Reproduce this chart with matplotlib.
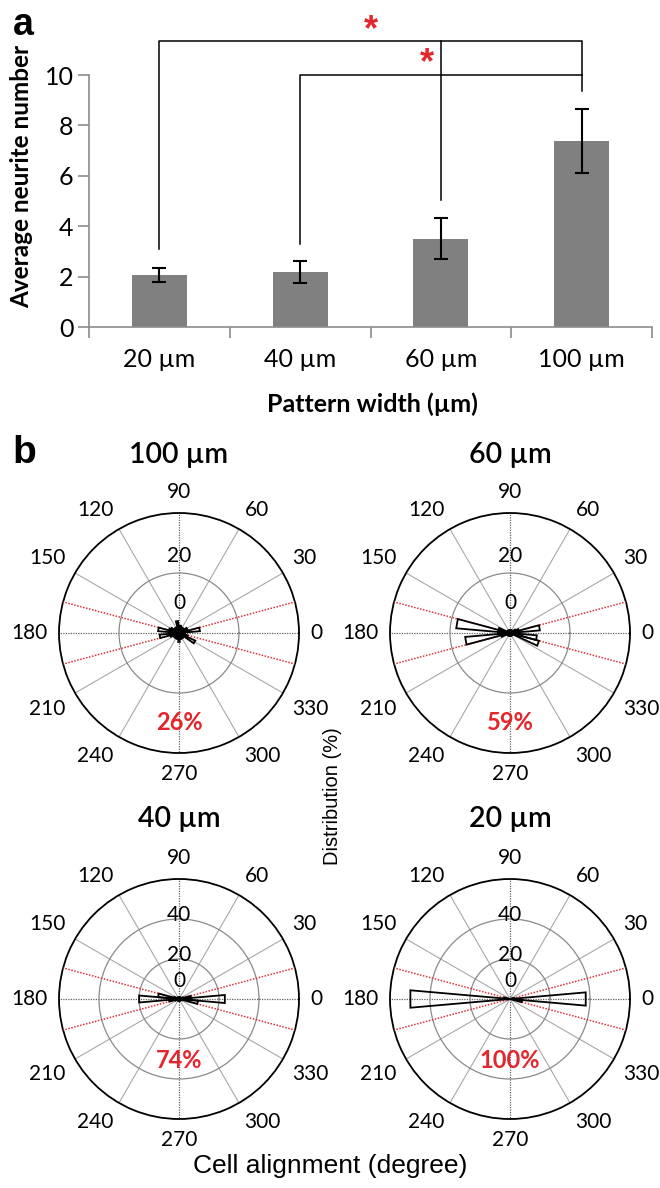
import numpy as np
import matplotlib
matplotlib.use('Agg')
import matplotlib.pyplot as plt

# ---------------- data ----------------
categories = ['20 µm', '40 µm', '60 µm', '100 µm']
neurite_mean = [2.07, 2.18, 3.51, 7.40]
neurite_err = [0.28, 0.43, 0.82, 1.27]

# significance brackets (panel a)
bracket_top = 11.35
bracket_mid = 10.0
leg_low = [3.1, 3.3, 5.05, 9.35]

bin_centers_deg = list(range(0, 360, 10))
dist_100 = [2, 7, 3, 3, 2, 2, 2, 2, 2.5, 2, 4, 2, 2, 2, 2, 3, 3.5, 7,
            2, 6.5, 3, 2, 2, 2, 2, 2, 2, 3, 2, 2, 2, 2, 2, 6, 3, 1.5]
dist_60 = [3, 10, 3, 2, 1, 0.5, 1, 0.5, 1, 0.5, 1, 0.5, 1, 0.5, 1, 1, 4, 18,
           4, 15, 3, 1, 0.5, 1, 0.5, 1, 0.5, 1, 0.5, 1, 0.5, 1, 0.5, 1, 10, 9]
dist_40 = [23, 6, 2, 1, 0.5, 0.5, 1, 0.5, 0.5, 1, 0.5, 0.5, 1, 0.5, 0.5, 1, 2.5, 10.5,
           20, 5, 2, 1, 0.5, 0.5, 1, 0.5, 0.5, 1, 0.5, 0.5, 1, 0.5, 0.5, 1, 1.5, 9.5]
dist_20 = [38, 2, 0, 0, 0, 0, 0, 0, 0, 0, 0, 0, 0, 0, 0, 0, 0, 3,
           50, 1, 0, 0, 0, 0, 0, 0, 0, 0, 0, 0, 0, 0, 0, 0, 0, 6]
panel_titles = ['100 µm', '60 µm', '40 µm', '20 µm']
panel_dists = [dist_100, dist_60, dist_40, dist_20]
panel_rmax = [40, 40, 60, 60]
aligned_pct = ['26%', '59%', '74%', '100%']
angle_ticks = list(range(0, 360, 30))
window_deg = [15, 165, 195, 345]

# ---------------- layout ----------------
W, H = 660, 1188
fig = plt.figure(figsize=(W / 100, H / 100), dpi=100)
CAL = ['Lato', 'DejaVu Sans']
ARI = ['Liberation Sans', 'DejaVu Sans']

def fx(px):
    return px / W

def fy(py):
    return 1 - py / H

# ---------------- panel a ----------------
y0_px, unit_px = 327, 25.2
ymax = 12
ax = fig.add_axes([fx(89), fy(y0_px), 563 / W, ymax * unit_px / H])
x = np.arange(len(categories))
ax.bar(x, neurite_mean, width=0.39, color='#808080', zorder=2)
ax.errorbar(x, neurite_mean, yerr=neurite_err, fmt='none', ecolor='black',
            elinewidth=1.5, capsize=5, capthick=1.5, zorder=3)
ax.set_xlim(-0.5, 3.5)
ax.set_ylim(0, ymax)
for s in ['top', 'right']:
    ax.spines[s].set_visible(False)
for s in ['left', 'bottom']:
    ax.spines[s].set_color('#8c8c8c')
    ax.spines[s].set_linewidth(1.2)
ax.spines['left'].set_bounds(0, 10)
ax.set_yticks(range(0, 11, 2))
ax.set_yticklabels([str(v) for v in range(0, 11, 2)], fontfamily=CAL, fontsize=18)
ax.tick_params(axis='y', length=8, width=1.2, color='#8c8c8c', pad=3)
ax.set_xticks(x)
ax.set_xticklabels(categories, fontfamily=CAL, fontsize=18)
ax.tick_params(axis='x', which='major', length=0, pad=15)
ax.set_xticks(np.arange(-0.5, 4, 1), minor=True)
ax.tick_params(axis='x', which='minor', length=8, width=1.2, color='#8c8c8c')
ax.patch.set_alpha(0)

bk = dict(color='black', lw=1.1, clip_on=False, zorder=1)
ax.plot([x[0], x[0], x[3], x[3]], [leg_low[0], bracket_top, bracket_top, bracket_mid], **bk)
ax.plot([x[1], x[1], x[3], x[3]], [leg_low[1], bracket_mid, bracket_mid, leg_low[3]], **bk)
ax.plot([x[2], x[2]], [leg_low[2], bracket_top], **bk)
ax.text(1.5, 11.75, '*', color='#e3262b', fontsize=26, fontweight='bold',
        ha='center', va='center', fontfamily=ARI, clip_on=False)
ax.text(1.9, 10.45, '*', color='#e3262b', fontsize=26, fontweight='bold',
        ha='center', va='center', fontfamily=ARI, clip_on=False)

fig.text(fx(22), fy(176), 'Average neurite number', rotation=90, ha='center',
         va='center', fontsize=17.5, fontweight='bold', fontfamily=CAL)
fig.text(fx(372), fy(404), 'Pattern width (µm)', ha='center', va='center',
         fontsize=18, fontweight='bold', fontfamily=CAL)
fig.text(fx(13), fy(35), 'a', fontsize=27, fontweight='bold', fontfamily=ARI,
         ha='left', va='baseline')

# ---------------- panel b ----------------
fig.text(fx(12), fy(463), 'b', fontsize=28, fontweight='bold', fontfamily=ARI,
         ha='left', va='baseline')
centers = [(179, 633), (510, 633), (179, 999), (510, 999)]
title_y = [455, 455, 819, 819]
pct_dy = [89, 89, 62, 62]
R = 120
GAP = 11
for i in range(4):
    cx, cy = centers[i]
    rmax = panel_rmax[i]
    pax = fig.add_axes([fx(cx - R), fy(cy + R), 2 * R / W, 2 * R / H], projection='polar')
    pax.set_ylim(0, rmax)
    rings = list(range(20, rmax, 20))
    pax.set_yticks(rings)
    pax.set_yticklabels([])
    pax.set_thetagrids(angle_ticks, [''] * len(angle_ticks))
    pax.yaxis.grid(True, color='#8a8a8a', lw=0.9, ls='-')
    for a, gl in zip(angle_ticks, pax.xaxis.get_gridlines()):
        if a % 90 == 0:
            gl.set_linestyle((0, (1, 1)))
            gl.set_color('#606060')
            gl.set_linewidth(0.9)
        else:
            gl.set_linestyle('-')
            gl.set_color('#a8a8a8')
            gl.set_linewidth(0.8)
    pax.spines['polar'].set_color('black')
    pax.spines['polar'].set_linewidth(1.3)
    # angle labels anchored by their inner edge
    for a in angle_ticks:
        c, s = np.cos(np.deg2rad(a)), np.sin(np.deg2rad(a))
        ha = 'left' if c > 0.1 else ('right' if c < -0.1 else 'center')
        va = 'bottom' if s > 0.1 else ('top' if s < -0.1 else 'center')
        pax.annotate(str(a), xy=(np.deg2rad(a), rmax), xytext=(GAP * c, GAP * s),
                     textcoords='offset pixels', ha=ha, va=va, fontsize=15,
                     fontfamily=CAL, annotation_clip=False)
    for a in window_deg:
        pax.plot([np.deg2rad(a)] * 2, [0, rmax], color='#d9343a', ls=(0, (1, 1)),
                 lw=1.1, zorder=3)
    for c, r in zip(bin_centers_deg, panel_dists[i]):
        if r > 0:
            th = np.deg2rad([c, c - 5, c + 5])
            pax.fill(th, [0, r, r], fill=False, edgecolor='black', lw=1.3, zorder=4)
    # radial labels
    off0 = 30 if rmax == 40 else 18
    offr = 17 if rmax == 40 else 4
    pax.annotate('0', xy=(np.pi / 2, 0), xytext=(0, off0), textcoords='offset pixels',
                 ha='center', va='center', fontsize=15, fontfamily=CAL, zorder=5)
    for r in rings:
        pax.annotate(str(r), xy=(np.pi / 2, r), xytext=(0, offr), textcoords='offset pixels',
                     ha='center', va='center', fontsize=15, fontfamily=CAL, zorder=5)
    fig.text(fx(cx), fy(title_y[i]), panel_titles[i], ha='center', va='center',
             fontsize=20.5, fontweight='semibold', fontfamily=CAL)
    fig.text(fx(cx), fy(cy + pct_dy[i]), aligned_pct[i], ha='center', va='center',
             fontsize=17, fontweight='bold', color='#e3262b', fontfamily=CAL)

fig.text(fx(333), fy(796), 'Distribution (%)', rotation=90, ha='center', va='center',
         fontsize=14.5, fontfamily=ARI)
fig.text(fx(330), fy(1166), 'Cell alignment (degree)', ha='center', va='center',
         fontsize=19, fontfamily=ARI)

fig.savefig('out.png', dpi=100)
